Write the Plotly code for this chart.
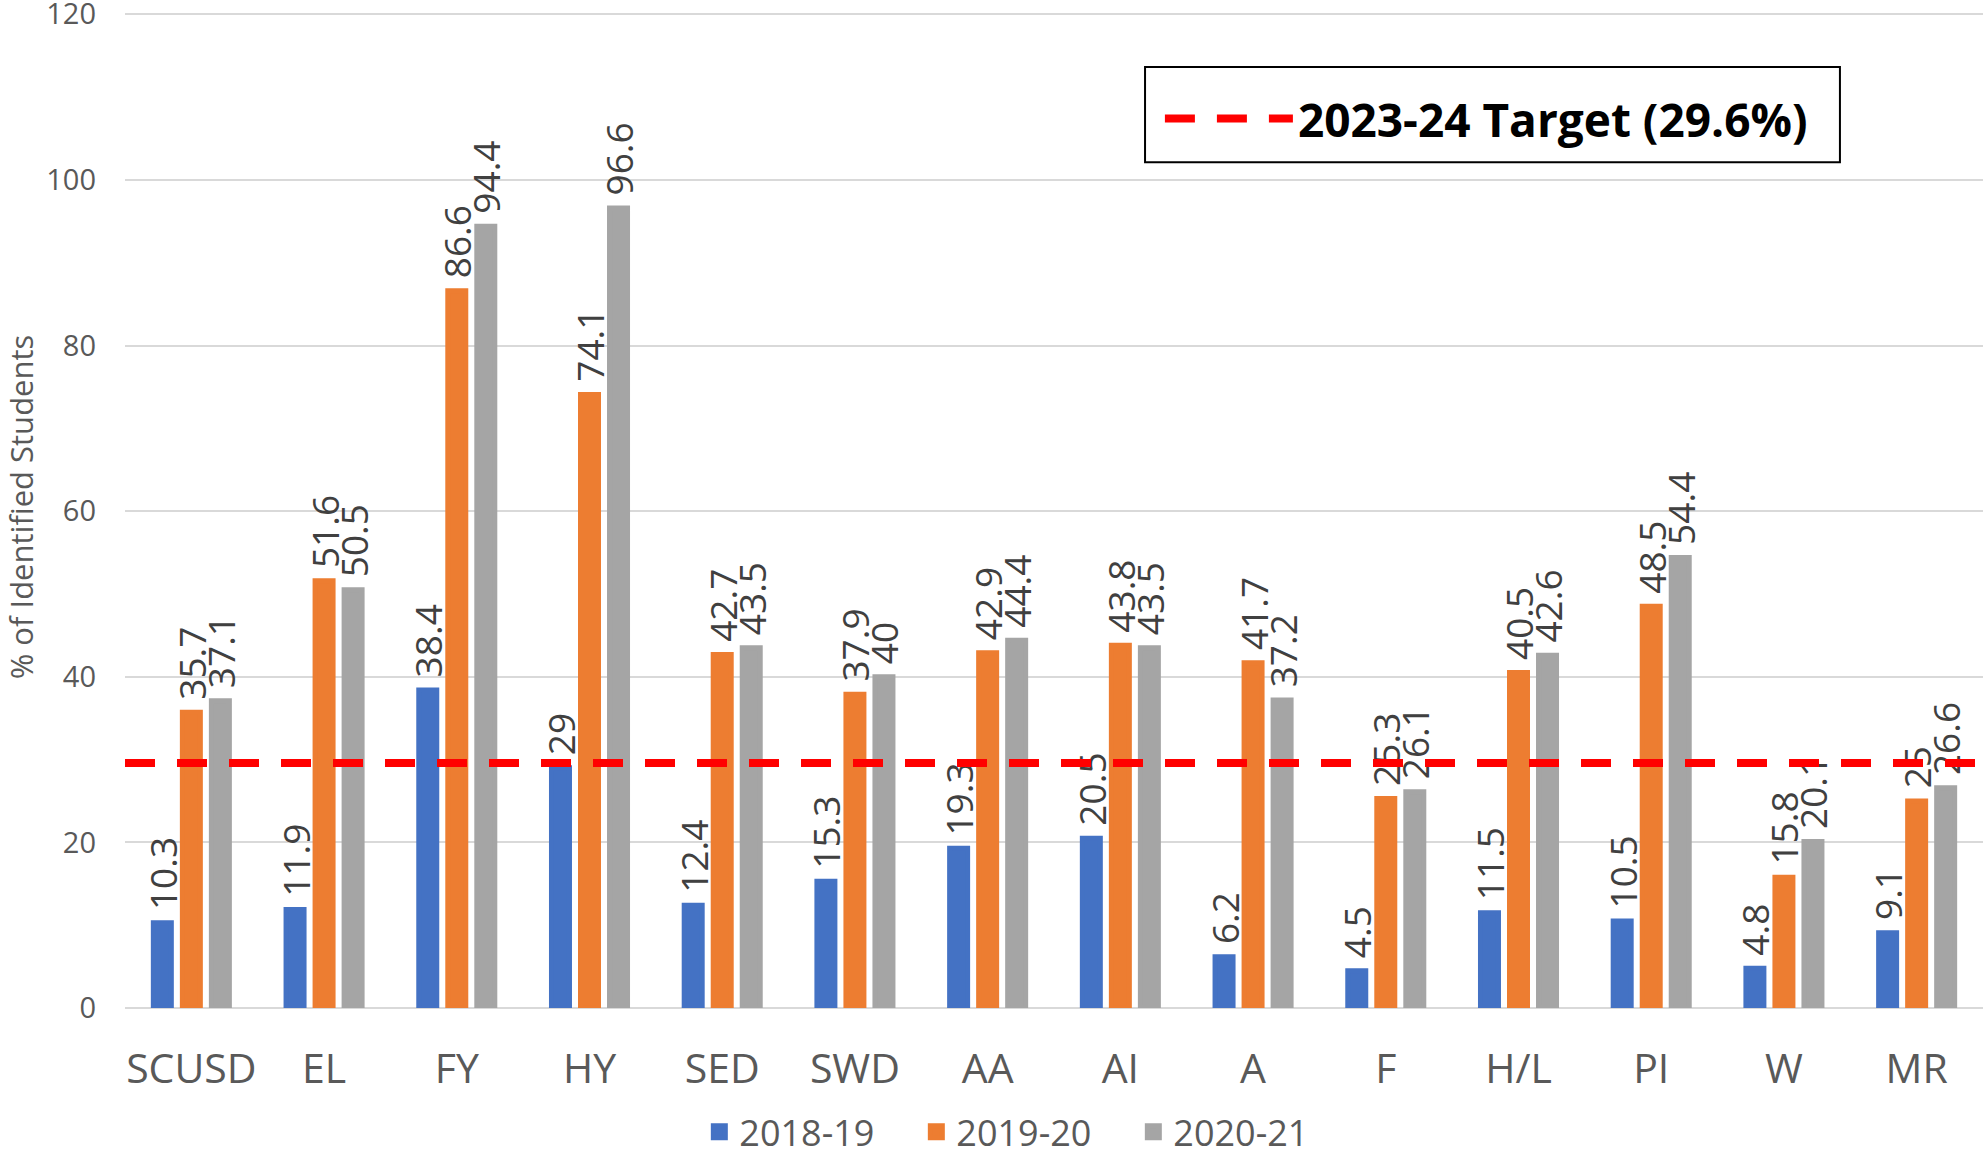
import plotly.graph_objects as go

categories = ["SCUSD", "EL", "FY", "HY", "SED", "SWD", "AA", "AI", "A", "F", "H/L", "PI", "W", "MR"]
y_2018_19 = [10.3, 11.9, 38.4, 29, 12.4, 15.3, 19.3, 20.5, 6.2, 4.5, 11.5, 10.5, 4.8, 9.1]
y_2019_20 = [35.7, 51.6, 86.6, 74.1, 42.7, 37.9, 42.9, 43.8, 41.7, 25.3, 40.5, 48.5, 15.8, 25]
y_2020_21 = [37.1, 50.5, 94.4, 96.6, 43.5, 40, 44.4, 43.5, 37.2, 26.1, 42.6, 54.4, 20.1, 26.6]
series_names = ["2018-19", "2019-20", "2020-21"]
series_colors = ["#4472C4", "#ED7D31", "#A5A5A5"]
target_value = 29.6
target_label = "2023-24 Target (29.6%)"
y_ticks = [0, 20, 40, 60, 80, 100, 120]

FONT = "Open Sans"
TXT = "#595959"

fig = go.Figure()
for name, vals, col in zip(series_names, [y_2018_19, y_2019_20, y_2020_21], series_colors):
    fig.add_trace(go.Bar(
        x=categories, y=vals, name=name,
        marker=dict(color=col, line=dict(color=col, width=5)),
        text=[f"\u00a0{v:g}" for v in vals],
        textposition="outside", textangle=-90,
        textfont=dict(family=FONT, size=37, color="#404040"),
        cliponaxis=False, constraintext="none",
        legend="legend",
    ))

fig.add_trace(go.Scatter(
    x=[0, 1], y=[target_value, target_value], xaxis="x2", yaxis="y",
    mode="lines", name=target_label,
    line=dict(color="#FF0000", width=8, dash="30px,22px"),
    legend="legend2", showlegend=True, hoverinfo="skip",
))

n = len(categories)

fig.update_layout(
    width=1983, height=1159,
    margin=dict(l=125, r=0, t=6, b=151, autoexpand=False),
    paper_bgcolor="white", plot_bgcolor="white",
    barmode="group", bargap=0.344, bargroupgap=0.38,
    font=dict(family=FONT, color=TXT),
    xaxis=dict(
        type="category", categoryorder="array", categoryarray=categories,
        range=[-0.5, n - 0.5],
        tickfont=dict(family=FONT, size=41, color=TXT),
        showgrid=False, showline=False, ticks="",
        ticklabelstandoff=33, automargin=False,
    ),
    xaxis2=dict(overlaying="x", range=[0, 1], visible=False),
    yaxis=dict(
        range=[0, 121], tickvals=y_ticks,
        tickfont=dict(family=FONT, size=29, color=TXT),
        showgrid=True, gridcolor="#D9D9D9", gridwidth=2,
        zeroline=True, zerolinecolor="#D9D9D9", zerolinewidth=2,
        showline=False, ticks="", ticklabelstandoff=28,
        ticklabeloverflow="allow", automargin=False,
        title=dict(text="% of Identified Students", font=dict(family=FONT, size=31, color=TXT), standoff=16),
    ),
    legend=dict(
        orientation="h", x=0.4843, xanchor="center", y=-0.1237, yanchor="middle",
        font=dict(family=FONT, size=36, color=TXT), bgcolor="rgba(0,0,0,0)",
        entrywidth=172,
    ),
    legend2=dict(
        x=0.557, xanchor="left", y=0.924, yanchor="top",
        font=dict(family=FONT, size=46, color="black", weight="bold"),
        borderwidth=0, bgcolor="rgba(0,0,0,0)",
        itemwidth=128,
    ),
    shapes=[dict(
        type="rect", xref="paper", yref="paper",
        x0=0.549, x1=0.923, y0=0.844, y1=0.939,
        line=dict(color="black", width=2), fillcolor="white", layer="above",
    )],
)

fig.write_html(
    "out.html",
    config={"displayModeBar": False},
    post_script="document.body.style.margin='0';document.body.style.overflow='hidden';",
)
